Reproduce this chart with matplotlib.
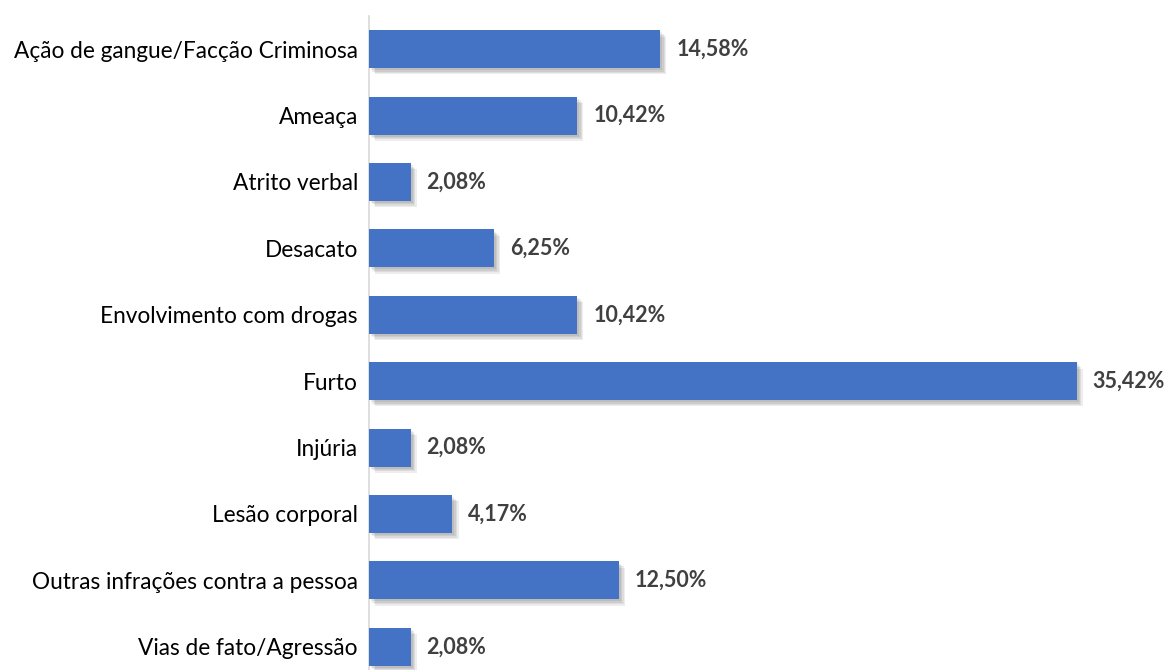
import matplotlib.pyplot as plt
import matplotlib.patheffects as pe

# categories and percentages
categories = ['Ação de gangue/Facção Criminosa', 'Ameaça', 'Atrito verbal', 'Desacato',
              'Envolvimento com drogas', 'Furto', 'Injúria', 'Lesão corporal',
              'Outras infrações contra a pessoa', 'Vias de fato/Agressão']
values = [14.58, 10.42, 2.08, 6.25, 10.42, 35.42, 2.08, 4.17, 12.50, 2.08]
labels = ['14,58%', '10,42%', '2,08%', '6,25%', '10,42%', '35,42%', '2,08%', '4,17%', '12,50%', '2,08%']

plt.rcParams['font.family'] = ['Lato', 'DejaVu Sans']

fig = plt.figure(figsize=(11.68, 6.70), dpi=100)
ax = fig.add_axes([369 / 1168, -10 / 670, 1 - 369 / 1168, 664 / 670])

pos = list(range(len(categories)))
# soft shadow built from a few stacked offsets
shadow = [pe.SimplePatchShadow(offset=(d, -d), shadow_rgbFace='black', alpha=0.07) for d in (1.5, 2.5, 3.5, 4.5)]
bars = ax.barh(pos, values, height=0.57, color='#4472C4', zorder=3)
for b in bars:
    b.set_path_effects(shadow + [pe.Normal()])

for p, v, s in zip(pos, values, labels):
    ax.text(v + 0.8, p, s, va='center', ha='left', fontsize=15.5, fontweight='bold', color='#404040')

ax.set_xlim(0, 40)
ax.set_ylim(len(categories) - 0.5, -0.5)
ax.set_yticks(pos)
ax.set_yticklabels(categories, fontsize=16.3, color='#000000')
ax.tick_params(axis='y', length=0, pad=8)
ax.set_xticks([])
for side in ('top', 'right', 'bottom'):
    ax.spines[side].set_visible(False)
ax.spines['left'].set_color('#D9D9D9')
ax.spines['left'].set_linewidth(1.2)

plt.savefig('out.png', dpi=100)
